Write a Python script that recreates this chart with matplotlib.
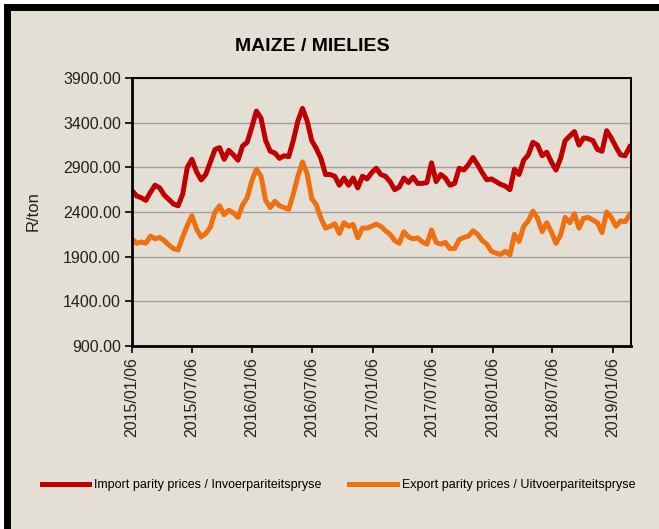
import matplotlib
matplotlib.use('Agg')
import matplotlib.pyplot as plt
import matplotlib.dates as mdates
from matplotlib.patches import Rectangle
import pandas as pd

# fortnightly prices, R/ton (first week 2015/01/06)
start_date = '2015-01-06'
import_prices = [
    2640, 2580, 2560, 2530, 2620, 2700, 2670, 2590, 2540, 2490,
    2470, 2600, 2900, 2990, 2850, 2760, 2820, 2960, 3100, 3120,
    2990, 3090, 3040, 2980, 3140, 3180, 3350, 3530, 3450, 3200,
    3080, 3060, 3000, 3030, 3020, 3200, 3420, 3560, 3420, 3200,
    3110, 3000, 2820, 2820, 2800, 2700, 2780, 2700, 2780, 2670,
    2800, 2770, 2840, 2890, 2820, 2800, 2740, 2650, 2680, 2780,
    2730, 2790, 2720, 2720, 2730, 2950, 2740, 2820, 2780, 2700,
    2720, 2890, 2870, 2930, 3010, 2930, 2840, 2760, 2770, 2740,
    2710, 2690, 2650, 2880, 2820, 2980, 3040, 3180, 3150, 3030,
    3070, 2960, 2870, 3000, 3200, 3250, 3300, 3150, 3230, 3220,
    3200, 3100, 3080, 3310, 3230, 3130, 3040, 3030, 3130,
]
export_prices = [
    2100, 2050, 2065, 2050, 2130, 2100, 2115, 2080, 2030, 1990,
    1975, 2120, 2250, 2360, 2210, 2120, 2160, 2230, 2400, 2470,
    2370, 2420, 2390, 2340, 2480, 2560, 2750, 2880, 2800, 2530,
    2450, 2520, 2470, 2450, 2430, 2600, 2800, 2960, 2830, 2550,
    2480, 2330, 2220, 2240, 2270, 2160, 2280, 2240, 2260, 2110,
    2220, 2220, 2240, 2265, 2240, 2190, 2150, 2080, 2050, 2180,
    2120, 2100, 2110, 2065, 2040, 2200, 2060, 2040, 2060, 1990,
    1990, 2090, 2115, 2130, 2190, 2150, 2080, 2040, 1960, 1940,
    1925, 1960, 1920, 2150, 2070, 2240, 2300, 2410, 2330, 2180,
    2280, 2180, 2050, 2140, 2340, 2280, 2380, 2220, 2330, 2340,
    2310, 2280, 2170, 2400, 2340, 2240, 2300, 2290, 2370,
]
tick_dates = ['2015-01-06', '2015-07-06', '2016-01-06', '2016-07-06', '2017-01-06',
              '2017-07-06', '2018-01-06', '2018-07-06', '2019-01-06']
y_ticks = [900, 1400, 1900, 2400, 2900, 3400, 3900]

dates = pd.date_range(start_date, periods=len(import_prices), freq='14D')

bg = '#e4dfd5'
red = '#c00000'
orange = '#ee7011'
font = 'Liberation Sans'

fig = plt.figure(figsize=(6.59, 5.29), dpi=100)
fig.patch.set_facecolor('white')

# black frame round the beige card (cut off on the right and bottom)
fig.patches.append(Rectangle((6.5 / 659, -0.1), 1.2, 1.1 - 7.5 / 529,
                             transform=fig.transFigure, facecolor=bg,
                             edgecolor='black', linewidth=5, zorder=-5))

ax = fig.add_axes([132 / 659, 1 - 346 / 529, 499 / 659, 268 / 529])
ax.set_facecolor('none')

ax.plot(dates, import_prices, color=red, linewidth=3.6, solid_joinstyle='round',
        label='Import parity prices / Invoerpariteitspryse')
ax.plot(dates, export_prices, color=orange, linewidth=3.6, solid_joinstyle='round',
        label='Export parity prices / Uitvoerpariteitspryse')

ax.set_ylim(900, 3900)
ax.set_yticks(y_ticks)
ax.set_yticklabels(['%.2f' % v for v in y_ticks], family=font, fontsize=11.5, color='#222222')
ax.set_xlim(pd.Timestamp('2015-01-06'), dates[-1] + pd.Timedelta(days=4))
ax.set_xticks(pd.to_datetime(tick_dates))
ax.xaxis.set_major_formatter(mdates.DateFormatter('%Y/%m/%d'))
plt.setp(ax.get_xticklabels(), rotation=90, family=font, fontsize=11.5, color='#222222')

ax.grid(axis='y', color='#a0a0a0', linewidth=1)
ax.set_axisbelow(True)
for side in ['left', 'bottom']:
    ax.spines[side].set_linewidth(2)
for side in ['top', 'right']:
    ax.spines[side].set_linewidth(1.4)
ax.tick_params(axis='both', direction='out', length=5, width=1.2, pad=3)

fig.text(312.5 / 659, 1 - 46.5 / 529, 'MAIZE / MIELIES', ha='center', va='center',
         family=font, fontsize=14, fontweight='bold')
fig.text(33 / 659, 1 - 211 / 529, 'R/ton', rotation=90, ha='center', va='center',
         family=font, fontsize=12, color='#222222')

fig.legend(loc='center', bbox_to_anchor=(338.5 / 659, 1 - 485 / 529), ncol=2,
           frameon=False, prop={'family': font, 'size': 9},
           handlelength=3.8, handletextpad=0.4, columnspacing=2.2)

fig.savefig('out.png', dpi=100, facecolor=fig.get_facecolor())
